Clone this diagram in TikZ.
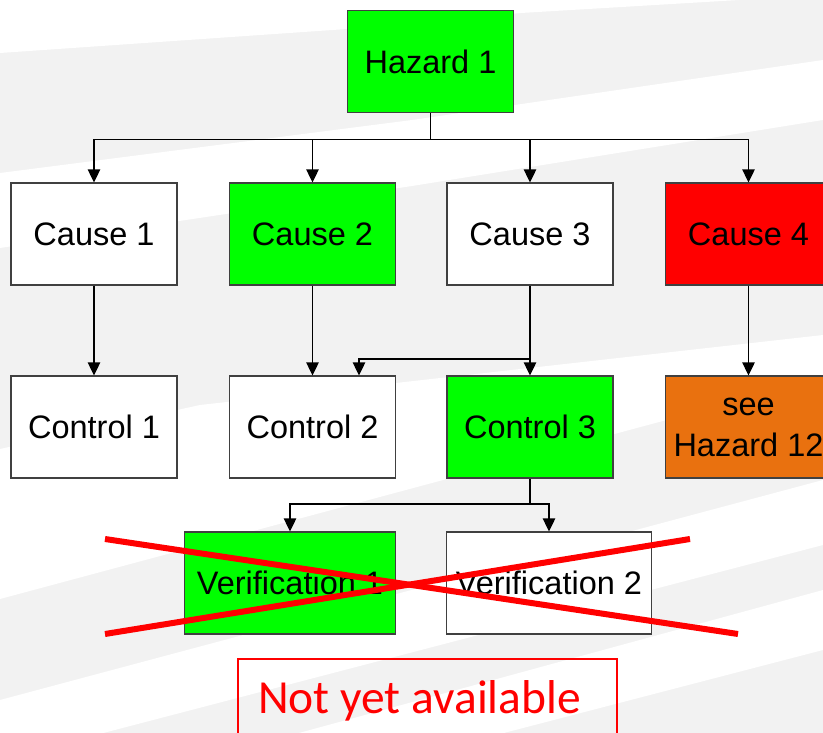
\documentclass[tikz,border=0pt]{standalone}
\usepackage{fontspec}
\setmainfont{Liberation Sans}
\newfontfamily\notefont{Carlito}
\usetikzlibrary{arrows.meta}
\definecolor{bggrey}{HTML}{F2F2F2}
\definecolor{boxgreen}{HTML}{00FF00}
\definecolor{boxred}{HTML}{FF0000}
\definecolor{boxorange}{HTML}{E9710F}
\definecolor{edgegrey}{HTML}{404040}

\begin{document}
\begin{tikzpicture}[x=1pt,y=-1pt,
  box/.style={draw=edgegrey, line width=1.3pt, minimum width=166pt,
    minimum height=102pt, inner sep=0pt, align=center,
    font=\fontsize{32.5}{41}\selectfont},
  link/.style={line width=1.4pt, -{Triangle[length=13pt,width=12.5pt]}},
  wire/.style={line width=1.4pt},
  strike/.style={draw=boxred, line width=6pt},
  band/.style={fill=white, draw=none}
]
\useasboundingbox (0,0) rectangle (823,733);
\begin{scope}
\clip (0,0) rectangle (823,733);

% background: light grey with white diagonal bands
\fill[bggrey] (0,0) rectangle (823,733);
\fill[band] (0,-5) -- (0,53) -- (347,29) -- (521,13) -- (823,-5) -- cycle;
\fill[band] (0,173) -- (412,120) -- (823,60) -- (823,120) -- (412,186) -- (0,248) -- cycle;
\fill[band] (0,449) -- (200,405) -- (823,335) -- (823,378) -- (0,599) -- cycle;
\fill[band] (0,700) -- (823,480) -- (823,545) -- (0,760) -- cycle;
\fill[band] (200,760) -- (823,590) -- (823,650) -- (400,760) -- cycle;

% hazard, causes, controls, verifications
\node[box, fill=boxgreen] (haz) at (430.5,61.5) {Hazard 1};

\node[box, fill=white]     (c1) at (94,234)    {Cause 1};
\node[box, fill=boxgreen]  (c2) at (312.5,234) {Cause 2};
\node[box, fill=white]     (c3) at (530,234)   {Cause 3};
\node[box, fill=boxred]    (c4) at (748.5,234) {Cause 4};

\node[box, fill=white]     (k1) at (94,427)    {Control 1};
\node[box, fill=white]     (k2) at (312.5,427) {Control 2};
\node[box, fill=boxgreen]  (k3) at (530,427)   {Control 3};
\node[box, fill=boxorange] (k4) at (748.5,427) {see\\Hazard 12};

\node[box, fill=boxgreen, minimum width=211pt] (v1) at (290,583) {Verification 1};
\node[box, fill=white,    minimum width=205pt] (v2) at (549,583) {Verification 2};

% hazard to causes
\draw[wire] (haz.south) -- ++(0,26.5) coordinate (hb);
\draw[link] (hb) -| (c1.north);
\draw[link] (hb) -| (c2.north);
\draw[link] (hb) -| (c3.north);
\draw[link] (hb) -| (c4.north);

% causes to controls
\draw[link] (c1.south) -- (k1.north);
\draw[link] (c2.south) -- (k2.north);
\draw[link] (c3.south) -- (k3.north);
\draw[link] (c4.south) -- (k4.north);
\coordinate (c3b) at (530,359);
\draw[link] (c3b) -| ([xshift=46.5pt]k2.north);

% control 3 to verifications
\draw[wire] (k3.south) -- ++(0,25.5) coordinate (kb);
\draw[link] (kb) -| (v1.north);
\draw[link] (kb) -| (v2.north);

% verifications struck out
\coordinate (xa) at (105,539);
\coordinate (xb) at (738,634);
\coordinate (xc) at (105,634);
\coordinate (xd) at (690,539);
\draw[strike] (xa) -- (xb);
\draw[strike] (xc) -- (xd);

% note
\node[draw=boxred, line width=2pt, minimum width=379pt, minimum height=100pt,
  anchor=north west, inner sep=0pt] (notebox) at (237,658) {};
\node[anchor=base west, inner sep=0pt, text=boxred,
  font=\notefont\fontsize{47.5}{50}\selectfont] (notetext) at (258,713) {Not yet available};
\end{scope}
\end{tikzpicture}
\end{document}
